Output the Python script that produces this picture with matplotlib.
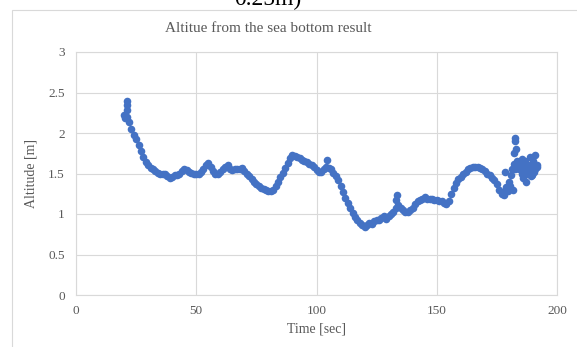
import matplotlib.pyplot as plt
from matplotlib.patches import Rectangle

# time [sec] and altitude [m]
time_sec = [
    20, 20.5, 21, 21, 21.3, 21.4, 22, 23, 24, 25, 26, 27, 28, 29, 30,
    31, 32, 33, 34, 35, 36, 37, 38, 39, 40, 41, 42, 43, 44, 45,
    46, 47, 48, 49, 50, 51, 52, 53, 54, 55, 56, 57, 58, 59, 60,
    61, 62, 63, 64, 65, 66, 67, 68, 69, 70, 71, 72, 73, 74, 75,
    76, 77, 78, 79, 80, 81, 82, 83, 84, 85, 86, 87, 88, 89, 90,
    91, 92, 93, 94, 95, 96, 97, 98, 99, 100, 101, 102, 103, 104, 104.2,
    105, 106, 107, 108, 109, 110, 111, 112, 113, 114, 115, 116, 117, 118, 119,
    120, 121, 122, 123, 124, 125, 126, 127, 128, 129, 130, 131, 132, 133, 133.2,
    133.3, 134, 135, 136, 137, 138, 139, 140, 141, 142, 143, 144, 145, 146, 147,
    148, 149, 150, 151, 152, 153, 154, 155, 156, 157, 158, 159, 160, 161, 162,
    163, 164, 165, 166, 167, 168, 169, 170, 171, 172, 173, 174, 175, 176, 177,
    178, 178.4, 178.6, 179, 179.5, 180, 180.5, 181, 181.3, 181.5,
    182, 182.2, 182.4, 182.5, 182.7, 183, 183.3, 183.5, 184, 184.5,
    185, 185.3, 185.6, 186, 186, 186.5, 186.8, 187, 187.3, 187.6, 188,
    188.3, 188.6, 189, 189.3, 189.6, 190, 190.3, 190.6, 190.8, 191, 191.5, 191.7,
]
altitude_m = [
    2.22, 2.18, 2.20, 2.28, 2.35, 2.40, 2.14, 2.05, 1.98, 1.92, 1.85, 1.78, 1.70, 1.64, 1.60,
    1.57, 1.55, 1.53, 1.51, 1.50, 1.50, 1.50, 1.47, 1.45, 1.46, 1.48, 1.48, 1.50, 1.53, 1.55,
    1.54, 1.52, 1.51, 1.50, 1.49, 1.50, 1.52, 1.55, 1.60, 1.63, 1.58, 1.53, 1.49, 1.50, 1.52,
    1.55, 1.58, 1.60, 1.56, 1.54, 1.55, 1.56, 1.56, 1.57, 1.53, 1.50, 1.47, 1.43, 1.40, 1.37,
    1.34, 1.32, 1.31, 1.30, 1.29, 1.28, 1.30, 1.34, 1.40, 1.46, 1.51, 1.57, 1.63, 1.69, 1.73,
    1.72, 1.70, 1.69, 1.67, 1.65, 1.64, 1.62, 1.61, 1.58, 1.54, 1.52, 1.52, 1.55, 1.58, 1.67,
    1.57, 1.55, 1.51, 1.47, 1.42, 1.35, 1.27, 1.20, 1.13, 1.07, 1.01, 0.96, 0.92, 0.89, 0.86,
    0.84, 0.86, 0.89, 0.88, 0.91, 0.93, 0.92, 0.95, 0.97, 0.94, 0.97, 1.00, 1.03, 1.08, 1.17,
    1.23, 1.11, 1.07, 1.05, 1.03, 1.02, 1.05, 1.07, 1.12, 1.16, 1.17, 1.19, 1.21, 1.19, 1.19,
    1.18, 1.17, 1.17, 1.16, 1.16, 1.14, 1.12, 1.16, 1.25, 1.32, 1.38, 1.43, 1.46, 1.49, 1.52,
    1.55, 1.57, 1.58, 1.58, 1.58, 1.57, 1.55, 1.53, 1.50, 1.48, 1.45, 1.42, 1.37, 1.30, 1.25,
    1.24, 1.52, 1.30, 1.33, 1.28, 1.40, 1.35, 1.48, 1.55, 1.30,
    1.62, 1.75, 1.90, 1.94, 1.55, 1.80, 1.65, 1.58, 1.55, 1.62,
    1.60, 1.50, 1.68, 1.58, 1.45, 1.65, 1.55, 1.40, 1.62, 1.50, 1.60,
    1.52, 1.70, 1.47, 1.58, 1.48, 1.65, 1.62, 1.52, 1.73, 1.55, 1.58, 1.60,
]

x_ticks = [0, 50, 100, 150, 200]
x_tick_labels = ["0", "50", "100", "150", "200"]
y_ticks = [0, 0.5, 1, 1.5, 2, 2.5, 3]
y_tick_labels = ["0", "0.5", "1", "1.5", "2", "2.5", "3"]

W, H = 577, 347
TEXT_GREY = "#595959"
GRID_GREY = "#d9d9d9"

plt.rcParams["font.family"] = ["Liberation Serif", "DejaVu Serif"]

fig = plt.figure(figsize=(W / 100, H / 100), dpi=100)

# chart frame (only the left and top edges are visible in the crop)
fig.patches.append(Rectangle((12 / W, -0.2), 1.2, 1.2 - 10 / H,
                             transform=fig.transFigure, fill=False,
                             edgecolor=GRID_GREY, linewidth=0.8))

ax = fig.add_axes([76 / W, 1 - 295 / H, (557 - 76) / W, (295 - 52) / H])
ax.scatter(time_sec, altitude_m, s=30, color="#4472C4", linewidths=0, zorder=3)

ax.set_xlim(0, 200)
ax.set_ylim(0, 3)
ax.set_xticks(x_ticks)
ax.set_xticklabels(x_tick_labels)
ax.set_yticks(y_ticks)
ax.set_yticklabels(y_tick_labels)
ax.tick_params(length=0, labelsize=9.5, colors=TEXT_GREY)
ax.tick_params(axis="y", pad=8)
ax.tick_params(axis="x", pad=7)
ax.grid(True, color=GRID_GREY, linewidth=0.8)
ax.set_axisbelow(True)
for sp in ax.spines.values():
    sp.set_color(GRID_GREY)
    sp.set_linewidth(0.8)

ax.set_xlabel("Time [sec]", fontsize=10, color=TEXT_GREY, labelpad=4)
ax.set_ylabel("Altitude [m]", fontsize=10, color=TEXT_GREY, labelpad=8)

fig.text(268 / W, 1 - 29 / H, "Altitue from the sea bottom result",
         ha="center", va="center", fontsize=11, color=TEXT_GREY)

# caption from the page above, cut off by the crop as in the reference
fig.text(268 / W, 1 - 5 / H, "0.25m)", ha="center", va="baseline",
         fontsize=17, color="black")

fig.savefig("out.png", dpi=100)
